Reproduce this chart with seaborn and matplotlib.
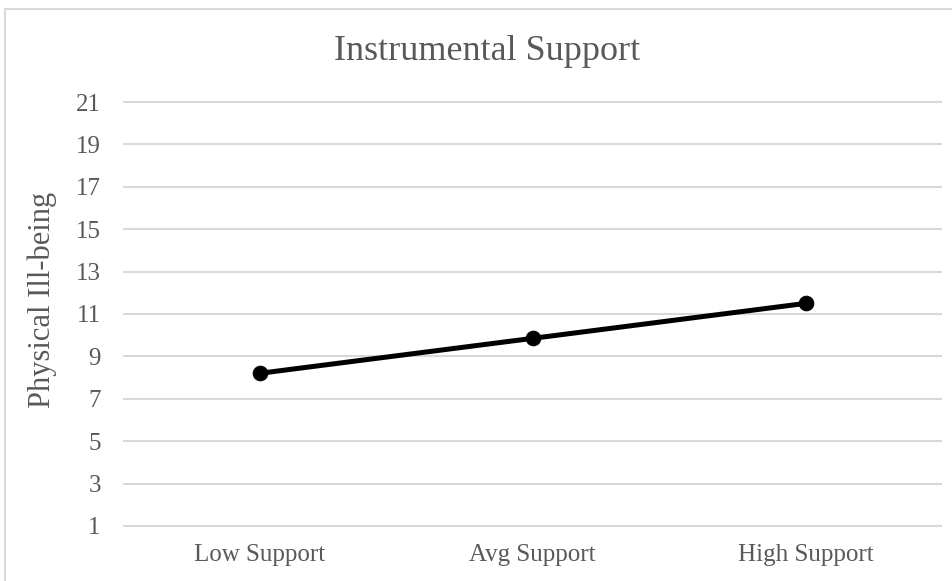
import matplotlib
matplotlib.use("Agg")
import matplotlib.pyplot as plt
import seaborn as sns
import pandas as pd
from matplotlib.patches import Rectangle

categories = ["Low Support", "Avg Support", "High Support"]
ill_being = [8.2, 9.85, 11.5]
y_ticks = list(range(1, 22, 2))

TEXT = "#595959"
GRID = "#d9d9d9"

sns.set_theme(style="white")
plt.rcParams["font.family"] = ["Liberation Serif", "DejaVu Serif"]

df = pd.DataFrame({"Support": categories, "Physical Ill-being": ill_being})

fig = plt.figure(figsize=(9.52, 5.81), dpi=100)
# chart frame like the Excel chart area
fig.patches.append(Rectangle((0.005, -0.01), 1.0, 1 - 9 / 581 + 0.01,
                             transform=fig.transFigure, fill=False,
                             edgecolor=GRID, linewidth=1.5))

ax = fig.add_axes([123 / 952, 1 - 527 / 581, (942 - 123) / 952, (527 - 101) / 581])

sns.lineplot(data=df, x="Support", y="Physical Ill-being", ax=ax,
             color="black", linewidth=3.6, marker="o", markersize=10.5,
             markeredgecolor="black", sort=False)

ax.set_xlim(-0.5, 2.5)
ax.set_ylim(1 - 0.05, 21 + 0.05)
ax.set_yticks(y_ticks)
ax.yaxis.grid(True, color=GRID, linewidth=1.5)
ax.set_axisbelow(True)
for s in ax.spines.values():
    s.set_visible(False)

ax.tick_params(axis="y", length=0, pad=16, labelsize=18, labelcolor=TEXT)
ax.tick_params(axis="x", length=0, pad=12, labelsize=18, labelcolor=TEXT)
ax.set_xlabel("")
ax.set_ylabel("Physical Ill-being", fontsize=22, color=TEXT)
ax.yaxis.set_label_coords(-(123 - 42) / 819, (527 - 300) / 426)
ax.yaxis.label.set_va("center")

fig.text(487 / 952, 1 - 51 / 581, "Instrumental Support", ha="center", va="center",
         fontsize=26, color=TEXT)

fig.savefig("out.png", dpi=100)
